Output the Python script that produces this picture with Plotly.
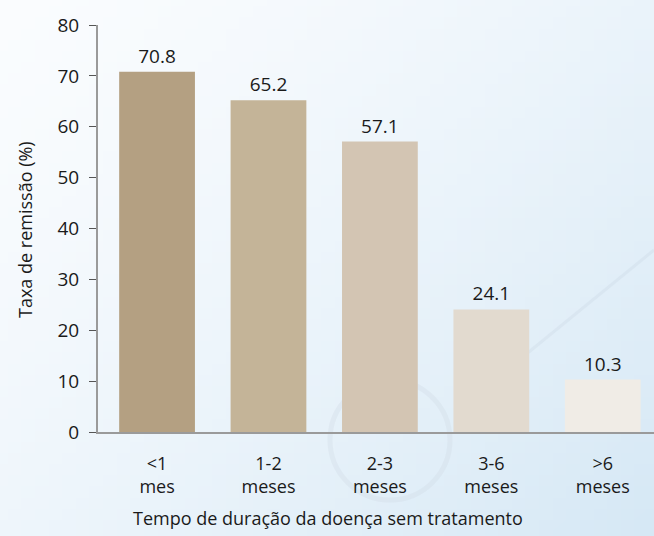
import base64
import struct
import zlib

import plotly.graph_objects as go

categories = ["<1<br>mes", "1-2<br>meses", "2-3<br>meses", "3-6<br>meses", ">6<br>meses"]
values = [70.8, 65.2, 57.1, 24.1, 10.3]
value_labels = ["70.8", "65.2", "57.1", "24.1", "10.3"]
bar_colors = ["#b4a082", "#c4b498", "#d3c5b3", "#e2dacf", "#f0ece6"]
y_ticks = [0, 10, 20, 30, 40, 50, 60, 70, 80]

FONT = "Open Sans, Noto Sans, sans-serif"
W, H = 654, 536
ML, MR, MT, MB = 98, 0, 25, 104


def gradient_png(w, h, c0, c1):
    """Small diagonal-gradient PNG encoded as a data URI."""
    rows = b""
    for j in range(h):
        row = bytearray([0])
        for i in range(w):
            t = ((i / (w - 1)) * 0.55 + (j / (h - 1)) * 0.45)
            t = max(0.0, min(1.0, t)) ** 1.4
            row += bytes(int(round(a + (b - a) * t)) for a, b in zip(c0, c1))
        rows += bytes(row)

    def chunk(tag, data):
        return (struct.pack(">I", len(data)) + tag + data
                + struct.pack(">I", zlib.crc32(tag + data) & 0xFFFFFFFF))

    png = b"\x89PNG\r\n\x1a\n"
    png += chunk(b"IHDR", struct.pack(">IIBBBBB", w, h, 8, 2, 0, 0, 0))
    png += chunk(b"IDAT", zlib.compress(rows, 9))
    png += chunk(b"IEND", b"")
    return "data:image/png;base64," + base64.b64encode(png).decode()


fig = go.Figure()
fig.add_trace(go.Bar(
    x=list(range(len(categories))),
    y=values,
    marker=dict(color=bar_colors, line=dict(width=0)),
    text=value_labels,
    textposition="outside",
    textfont=dict(size=19, color="#1a1a1a", family=FONT),
    cliponaxis=False,
    hoverinfo="skip",
))

pw, ph = W - ML - MR, H - MT - MB
fig.add_layout_image(dict(
    source=gradient_png(48, 48, (250, 252, 254), (214, 232, 245)),
    xref="paper", yref="paper",
    x=-ML / pw, y=1 + MT / ph,
    sizex=W / pw, sizey=H / ph,
    sizing="stretch", xanchor="left", yanchor="top",
    layer="below",
))

# faint decorative ring and streak behind the chart
fig.add_shape(type="circle", xref="paper", yref="paper",
              x0=(330 - ML) / pw, x1=(450 - ML) / pw,
              y0=1 - (500 - MT) / ph, y1=1 - (380 - MT) / ph,
              line=dict(color="rgba(205,215,225,0.3)", width=5), layer="below")
fig.add_shape(type="line", xref="paper", yref="paper",
              x0=(470 - ML) / pw, y0=1 - (400 - MT) / ph,
              x1=(654 - ML) / pw, y1=1 - (250 - MT) / ph,
              line=dict(color="rgba(200,212,224,0.3)", width=3), layer="below")

fig.add_annotation(text="Tempo de duração da doença sem tratamento",
                   xref="paper", yref="paper",
                   x=(328 - ML) / pw, y=1 - (518 - MT) / ph,
                   xanchor="center", yanchor="middle", showarrow=False,
                   font=dict(size=18, color="#1a1a1a", family=FONT))
fig.add_annotation(text="Taxa de remissão (%)",
                   xref="paper", yref="paper",
                   x=(25 - ML) / pw, y=1 - (230 - MT) / ph,
                   xanchor="center", yanchor="middle", showarrow=False,
                   textangle=-90,
                   font=dict(size=18, color="#1a1a1a", family=FONT))

fig.update_layout(
    width=W, height=H,
    margin=dict(l=ML, r=MR, t=MT, b=MB),
    paper_bgcolor="#f3f7fb",
    plot_bgcolor="rgba(0,0,0,0)",
    bargap=0.32,
    showlegend=False,
    font=dict(family=FONT, color="#1a1a1a"),
)
fig.update_xaxes(
    range=[-0.53, 4.46],
    tickmode="array",
    tickvals=list(range(len(categories))),
    ticktext=categories,
    tickfont=dict(size=18),
    ticklabelstandoff=14,
    ticks="",
    showgrid=False,
    zeroline=False,
    showline=True, linecolor="#9a9a9a", linewidth=2,
)
fig.update_yaxes(
    range=[0, 80],
    tickmode="array",
    tickvals=y_ticks,
    tickfont=dict(size=19),
    ticks="outside", ticklen=7, tickcolor="#555", tickwidth=1,
    ticklabelstandoff=6,
    showgrid=False,
    zeroline=False,
    showline=True, linecolor="#9a9a9a", linewidth=2,
)

fig.write_html("out.html")
